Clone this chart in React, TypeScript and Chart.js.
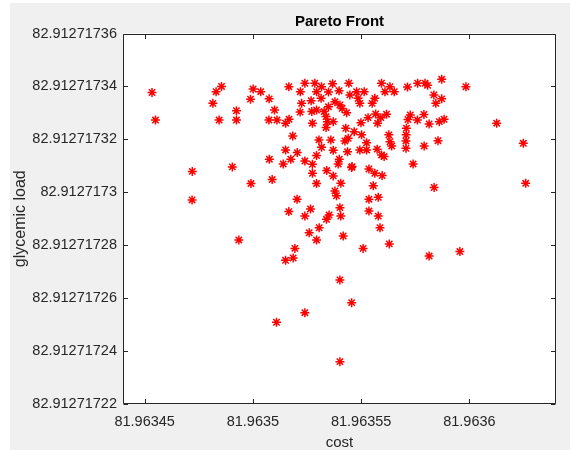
import React, { useEffect, useRef } from 'react';
import { Chart, registerables } from 'chart.js';

Chart.register(...registerables);

const cost: number[] = [
  81.9634534, 81.9634550, 81.9634720, 81.9634719, 81.9634830, 81.9634855, 81.9634815, 81.9634844,
  81.9634924, 81.9634924, 81.9634905, 81.9634935, 81.9635001, 81.9635036, 81.9634989, 81.9634991,
  81.9635075, 81.9635074, 81.9635100, 81.9635111, 81.9635076, 81.9635089, 81.9635151, 81.9635167,
  81.9635166, 81.9635219, 81.9635240, 81.9635286, 81.9635317, 81.9635368, 81.9635294, 81.9635349,
  81.9635225, 81.9635269, 81.9635315, 81.9635379, 81.9635218, 81.9635272, 81.9635294, 81.9635329,
  81.9635349, 81.9635275, 81.9635338, 81.9635344, 81.9635371, 81.9635338, 81.9635184, 81.9635305,
  81.9635360, 81.9635317, 81.9635151, 81.9635205, 81.9635371, 81.9635140, 81.9635175, 81.9635240,
  81.9635275, 81.9635294, 81.9635341, 81.9635399, 81.9635394, 81.9635275, 81.9635294, 81.9635371,
  81.9635406, 81.9635456, 81.9635379, 81.9635386, 81.9635204, 81.9635166, 81.9635266, 81.9635240,
  81.9635352, 81.9635340, 81.9635402, 81.9635406, 81.9635306, 81.9635260, 81.9635294, 81.9635417,
  81.9635536, 81.9635563, 81.9635597, 81.9635556, 81.9635536, 81.9635579, 81.9635536, 81.9635579,
  81.9635587, 81.9635630, 81.9635509, 81.9635194, 81.9635151, 81.9635186, 81.9635402, 81.9635456,
  81.9635240, 81.9635109, 81.9635402, 81.9635443, 81.9635398, 81.9635448, 81.9635479, 81.9635514,
  81.9635486, 81.9635494, 81.9635594, 81.9635633, 81.9635610, 81.9635653, 81.9635563, 81.9635551,
  81.9635714, 81.9635402, 81.9635412, 81.9635433, 81.9635532, 81.9635567, 81.9635591, 81.9635617,
  81.9635576, 81.9635499, 81.9635429, 81.9635468, 81.9635502, 81.9635440, 81.9635425, 81.9635525,
  81.9635628, 81.9635633, 81.9635641, 81.9635716, 81.9635709, 81.9635708, 81.9635707, 81.9635707,
  81.9635494, 81.9635525, 81.9635437, 81.9635574, 81.9635594, 81.9635606, 81.9635458, 81.9635761,
  81.9635795, 81.9635807, 81.9635872, 81.9635984, 81.9635836, 81.9635872, 81.9635845, 81.9635727,
  81.9635760, 81.9635790, 81.9635814, 81.9635861, 81.9635883, 81.9635791, 81.9635855, 81.9635740,
  81.9635837, 81.9636126, 81.9636249, 81.9636260, 81.9635814, 81.9635956,
];

const glycemicLoad: number[] = [
  82.9127173377, 82.9127173273, 82.9127173079, 82.9127172971, 82.9127173380, 82.9127173400, 82.9127173336, 82.9127173273,
  82.9127173308, 82.9127173273, 82.9127173096, 82.9127172820, 82.9127173390, 82.9127173380, 82.9127173352, 82.9127173033,
  82.9127173353, 82.9127173273, 82.9127173311, 82.9127173273, 82.9127173125, 82.9127173048, 82.9127173261, 82.9127173276,
  82.9127173399, 82.9127173380, 82.9127173412, 82.9127173412, 82.9127173399, 82.9127173410, 82.9127173380, 82.9127173379,
  82.9127173336, 82.9127173346, 82.9127173355, 82.9127173342, 82.9127173303, 82.9127173305, 82.9127173311, 82.9127173305,
  82.9127173323, 82.9127173261, 82.9127173286, 82.9127173267, 82.9127173267, 82.9127173245, 82.9127173213, 82.9127173198,
  82.9127173198, 82.9127173170, 82.9127173160, 82.9127173150, 82.9127173159, 82.9127173107, 82.9127173125, 82.9127173118,
  82.9127173106, 82.9127173139, 82.9127173082, 82.9127173125, 82.9127173107, 82.9127173072, 82.9127173033, 82.9127173062,
  82.9127173034, 82.9127173094, 82.9127173005, 82.9127172987, 82.9127172974, 82.9127172927, 82.9127172937, 82.9127172910,
  82.9127172914, 82.9127172898, 82.9127172942, 82.9127172910, 82.9127172866, 82.9127172847, 82.9127172820, 82.9127172835,
  82.9127173088, 82.9127173072, 82.9127173063, 82.9127173025, 82.9127172974, 82.9127172981, 82.9127172929, 82.9127172910,
  82.9127172866, 82.9127172805, 82.9127172788, 82.9127172788, 82.9127172743, 82.9127172752, 82.9127172669, 82.9127172583,
  82.9127172545, 82.9127172509, 82.9127172360, 82.9127173412, 82.9127173384, 82.9127173368, 82.9127173380, 82.9127173380,
  82.9127173355, 82.9127173336, 82.9127173412, 82.9127173399, 82.9127173380, 82.9127173380, 82.9127173355, 82.9127173336,
  82.9127173398, 82.9127173330, 82.9127173317, 82.9127173301, 82.9127173282, 82.9127173296, 82.9127173282, 82.9127173295,
  82.9127173261, 82.9127173263, 82.9127173242, 82.9127173229, 82.9127173217, 82.9127173204, 82.9127173194, 82.9127173187,
  82.9127173217, 82.9127173191, 82.9127173175, 82.9127173275, 82.9127173242, 82.9127173217, 82.9127173194, 82.9127173166,
  82.9127173160, 82.9127173160, 82.9127173153, 82.9127173163, 82.9127173141, 82.9127173135, 82.9127173097, 82.9127173412,
  82.9127173412, 82.9127173404, 82.9127173427, 82.9127173399, 82.9127173368, 82.9127173353, 82.9127173336, 82.9127173292,
  82.9127173273, 82.9127173294, 82.9127173258, 82.9127173267, 82.9127173276, 82.9127173175, 82.9127173195, 82.9127173107,
  82.9127173018, 82.9127173261, 82.9127173185, 82.9127173034, 82.9127172759, 82.9127172776,
];

const xLimits = [81.96344, 81.96364];
const yLimits = [82.91271722, 82.91271736];
const xTickValues = [81.96345, 81.9635, 81.96355, 81.9636];
const xTickLabels = ['81.96345', '81.9635', '81.96355', '81.9636'];
const yTickValues = [
  82.91271722, 82.91271724, 82.91271726, 82.91271728,
  82.9127173, 82.91271732, 82.91271734, 82.91271736,
];
const yTickLabels = [
  '82.91271722', '82.91271724', '82.91271726', '82.91271728',
  '82.9127173', '82.91271732', '82.91271734', '82.91271736',
];
const titleText = 'Pareto Front';
const xTitle = 'cost';
const yTitle = 'glycemic load';

const FONT = "'Liberation Sans', Arial, Helvetica, sans-serif";
const AXIS_COLOR = '#262626';

const framePlugin = {
  id: 'matlabFrame',
  beforeDraw(chart: any) {
    const { ctx, chartArea: a, width, height } = chart;
    ctx.save();
    ctx.fillStyle = '#ffffff';
    ctx.fillRect(0, 0, width, height);
    ctx.fillStyle = '#f0f0f0';
    ctx.fillRect(10, 3, width - 10, height - 3);
    ctx.fillStyle = '#ffffff';
    ctx.fillRect(a.left, a.top, a.right - a.left, a.bottom - a.top);
    ctx.restore();
  },
  afterDraw(chart: any) {
    const { ctx, chartArea: a } = chart;
    const xs = chart.scales.x;
    const ys = chart.scales.y;
    const L = Math.round(a.left) + 0.5;
    const R = Math.round(a.right) - 0.5;
    const T = Math.round(a.top) + 0.5;
    const B = Math.round(a.bottom) - 0.5;
    const tl = 4.5;
    ctx.save();
    ctx.strokeStyle = AXIS_COLOR;
    ctx.lineWidth = 1;
    ctx.beginPath();
    ctx.rect(L, T, R - L, B - T);
    xs.ticks.forEach((t: any) => {
      const px = Math.round(xs.getPixelForValue(t.value)) + 0.5;
      ctx.moveTo(px, B);
      ctx.lineTo(px, B - tl);
      ctx.moveTo(px, T);
      ctx.lineTo(px, T + tl);
    });
    ys.ticks.forEach((t: any) => {
      const py = Math.round(ys.getPixelForValue(t.value)) + 0.5;
      ctx.moveTo(L, py);
      ctx.lineTo(L + tl, py);
      ctx.moveTo(R, py);
      ctx.lineTo(R - tl, py);
    });
    ctx.stroke();
    ctx.fillStyle = '#000000';
    ctx.font = `bold 15px ${FONT}`;
    ctx.textAlign = 'center';
    ctx.textBaseline = 'alphabetic';
    ctx.fillText(titleText, (a.left + a.right) / 2, 26);
    ctx.restore();
  },
};

export default function App() {
  const ref = useRef<HTMLCanvasElement | null>(null);

  useEffect(() => {
    document.body.style.margin = '0';
    const canvas = ref.current;
    if (!canvas) return;
    const points = cost.map((c, i) => ({ x: c, y: glycemicLoad[i] }));
    const chart = new Chart(canvas, {
      type: 'scatter',
      data: {
        datasets: [
          {
            label: 'Pareto Front',
            data: points,
            pointStyle: 'star',
            pointRadius: 4.5,
            pointHoverRadius: 4.5,
            borderColor: '#ff0000',
            backgroundColor: '#ff0000',
            pointBorderWidth: 1.5,
            borderWidth: 1.5,
          },
        ],
      },
      options: {
        animation: false,
        responsive: false,
        devicePixelRatio: 1,
        layout: { padding: { top: 33.5, right: 14, bottom: 0, left: 0 } },
        plugins: {
          legend: { display: false },
          tooltip: { enabled: false },
          title: { display: false },
        },
        scales: {
          x: {
            type: 'linear',
            position: 'bottom',
            min: xLimits[0],
            max: xLimits[1],
            grid: { display: false, drawTicks: false },
            border: { display: false },
            afterBuildTicks: (s: any) => {
              s.ticks = xTickValues.map((v) => ({ value: v }));
            },
            afterFit: (s: any) => {
              s.height = 46;
            },
            ticks: {
              autoSkip: false,
              maxRotation: 0,
              padding: 9,
              color: AXIS_COLOR,
              font: { family: FONT, size: 14.5 },
              callback: (_v: any, i: number) => xTickLabels[i],
            },
            title: {
              display: true,
              text: xTitle,
              color: AXIS_COLOR,
              font: { family: FONT, size: 15 },
              padding: { top: 0, bottom: -2 },
            },
          },
          y: {
            type: 'linear',
            min: yLimits[0],
            max: yLimits[1],
            grid: { display: false, drawTicks: false },
            border: { display: false },
            afterBuildTicks: (s: any) => {
              s.ticks = yTickValues.map((v) => ({ value: v }));
            },
            afterFit: (s: any) => {
              s.width = 123;
            },
            ticks: {
              autoSkip: false,
              padding: 6,
              color: AXIS_COLOR,
              font: { family: FONT, size: 14.5 },
              callback: (_v: any, i: number) => yTickLabels[i],
            },
            title: {
              display: true,
              text: yTitle,
              color: AXIS_COLOR,
              font: { family: FONT, size: 16 },
              padding: { top: 11, bottom: 0 },
            },
          },
        },
      },
      plugins: [framePlugin],
    });
    return () => chart.destroy();
  }, []);

  return (
    <div style={{ position: 'relative', width: 570, height: 450 }}>
      <canvas ref={ref} width={570} height={450} style={{ width: 570, height: 450, display: 'block' }} />
    </div>
  );
}
